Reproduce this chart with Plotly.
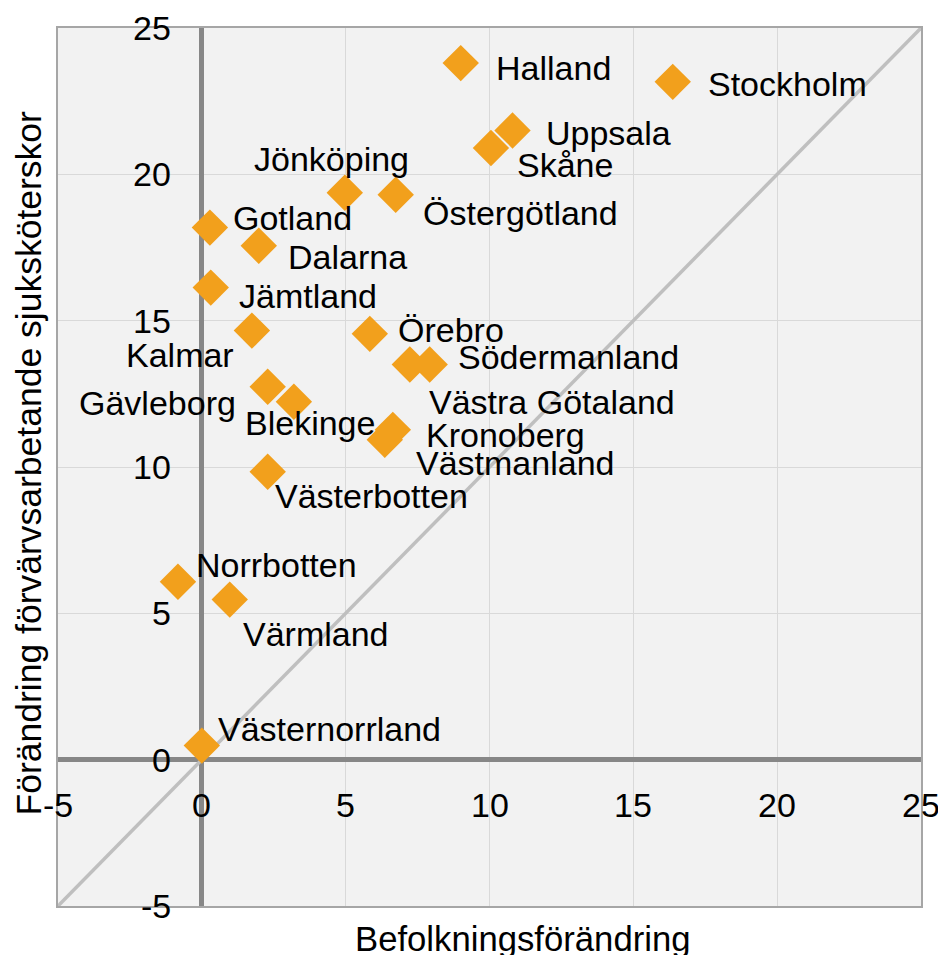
import plotly.graph_objects as go

counties = ["Halland", "Stockholm", "Uppsala", "Skåne", "Jönköping", "Östergötland",
            "Gotland", "Dalarna", "Jämtland", "Kalmar", "Örebro", "Södermanland",
            "Västra Götaland", "Gävleborg", "Blekinge", "Kronoberg", "Västmanland",
            "Västerbotten", "Norrbotten", "Värmland", "Västernorrland"]
befolkning = [9.0, 16.37, 10.8, 10.05, 4.97, 6.74,
              0.28, 1.98, 0.31, 1.74, 5.84, 7.92,
              7.23, 2.29, 3.2, 6.64, 6.36,
              2.29, -0.83, 0.97, 0.0]
sjukskoterskor = [23.8, 23.16, 21.5, 20.9, 19.37, 19.3,
                  18.18, 17.56, 16.13, 14.66, 14.55, 13.5,
                  13.5, 12.74, 12.23, 11.27, 10.93,
                  9.84, 6.08, 5.47, 0.48]
ticks = [-5, 0, 5, 10, 15, 20, 25]
diag = [-5, 25]

# label placement (anchor, xshift, yshift) in pixels
label_pos = {
    "Halland": ("left", 33, -5), "Stockholm": ("left", 33, -2),
    "Uppsala": ("left", 31, -3), "Skåne": ("left", 24, -17),
    "Jönköping": ("center", -13, 34), "Östergötland": ("left", 25, -18),
    "Gotland": ("left", 21, 10), "Dalarna": ("left", 27, -11),
    "Jämtland": ("left", 26, -8), "Kalmar": ("right", -16, -24),
    "Örebro": ("left", 26, 4), "Södermanland": ("left", 26, 8),
    "Västra Götaland": ("left", 17, -37), "Gävleborg": ("right", -30, -16),
    "Blekinge": ("center", 16, -21), "Kronoberg": ("left", 31, -5),
    "Västmanland": ("left", 29, -23), "Västerbotten": ("left", 5, -24),
    "Norrbotten": ("left", 16, 17), "Värmland": ("left", 11, -34),
    "Västernorrland": ("left", 14, 17),
}

FONT = "Liberation Sans, Arial, sans-serif"
FS = 34

fig = go.Figure()
fig.add_trace(go.Scatter(x=diag, y=diag, mode="lines",
                         line=dict(color="#BFBFBF", width=3.5), hoverinfo="skip"))
fig.add_trace(go.Scatter(x=befolkning, y=sjukskoterskor, mode="markers",
                         marker=dict(symbol="diamond", size=28, color="#F2A01C"),
                         text=counties))

ann = []
for name, xv, yv in zip(counties, befolkning, sjukskoterskor):
    a, xs, ys = label_pos[name]
    ann.append(dict(x=xv, y=yv, xref="x", yref="y", text=name, showarrow=False,
                    xanchor=a, yanchor="middle", xshift=xs, yshift=ys,
                    font=dict(family=FONT, size=FS, color="black")))
for t in ticks:
    ann.append(dict(x=t, y=0, xref="x", yref="y", text=str(t), showarrow=False,
                    xanchor="center", yanchor="middle", yshift=-45,
                    font=dict(family=FONT, size=FS, color="black")))
    ann.append(dict(x=0, y=t, xref="x", yref="y", text=str(t), showarrow=False,
                    xanchor="right", yanchor="middle", xshift=-29,
                    font=dict(family=FONT, size=FS, color="black")))
ann.append(dict(x=0.539, y=0, xref="paper", yref="paper", text="Befolkningsförändring",
                showarrow=False, xanchor="center", yanchor="middle", yshift=-33,
                font=dict(family=FONT, size=34.7, color="black")))
ann.append(dict(x=0, y=0.504, xref="paper", yref="paper",
                text="Förändring förvärvsarbetande sjuksköterskor",
                showarrow=False, xanchor="center", yanchor="middle", xshift=-29,
                textangle=-90, font=dict(family=FONT, size=35.5, color="black")))

axis_common = dict(range=[-5, 25], tickvals=ticks, showticklabels=False, ticks="",
                   showgrid=True, gridcolor="#D9D9D9", gridwidth=1,
                   zeroline=True, zerolinecolor="#878787", zerolinewidth=5,
                   showline=True, linecolor="#A6A6A6", linewidth=2, mirror=True)

fig.update_layout(
    width=938, height=947,
    margin=dict(l=50, r=25, t=20, b=49),
    paper_bgcolor="white", plot_bgcolor="#F2F2F2",
    showlegend=False,
    xaxis=axis_common, yaxis=axis_common,
    annotations=ann,
    font=dict(family=FONT, size=FS, color="black"),
)
fig.write_html("out.html")
